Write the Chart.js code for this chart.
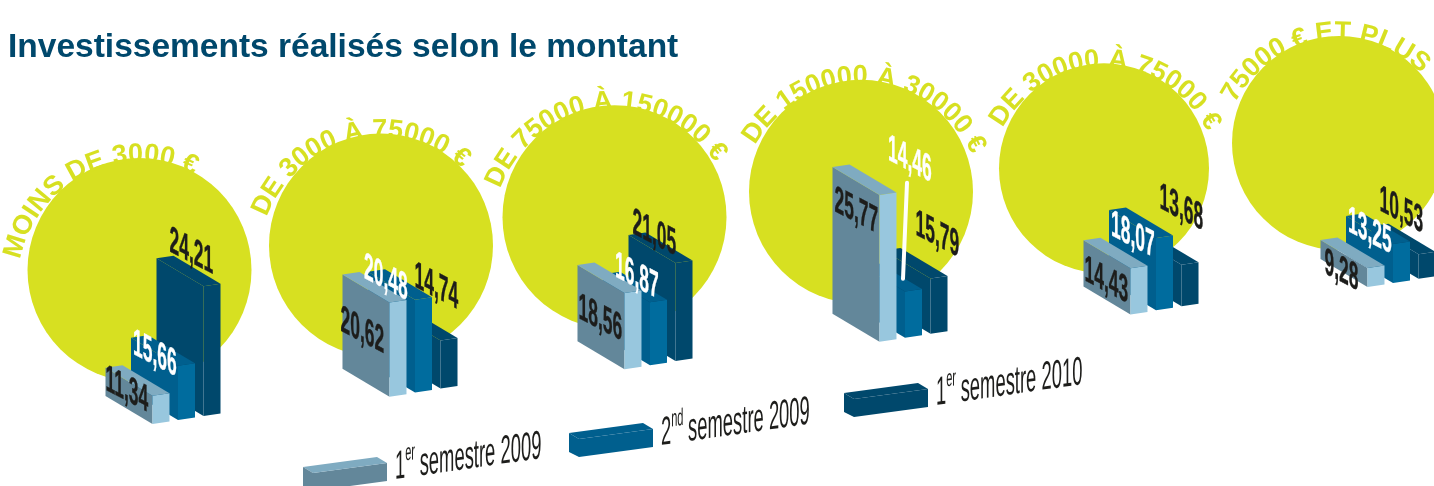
<!DOCTYPE html>
<html>
<head>
<meta charset="utf-8">
<title>Investissements réalisés selon le montant</title>
<script src="https://cdn.jsdelivr.net/npm/chart.js@4/dist/chart.umd.js"></script>
<style>
    html, body { margin: 0; padding: 0; background: #fff; overflow: hidden; }
    canvas { display: block; }
</style>
</head>
<body>
<canvas id="myChart" width="1434" height="486"></canvas>
<script>
// data
const chartTitle = 'Investissements réalisés selon le montant';
const categories = ['MOINS DE 3000 €', 'DE 3000 À 75000 €', 'DE 75000 À 150000 €', 'DE 150000 À 30000 €', 'DE 30000 À 75000 €', '75000 € ET PLUS'];
const sem1_2009 = [11.34, 20.62, 18.56, 25.77, 14.43, 9.28];
const sem2_2009 = [15.66, 20.48, 16.87, 14.46, 18.07, 13.25];
const sem1_2010 = [24.21, 14.74, 21.05, 15.79, 13.68, 10.53];
const seriesNames = ['1er semestre 2009', '2nd semestre 2009', '1er semestre 2010'];

// layout of the drawing, relative to each group
const groupNudge = [0, -6, -14, -2, 6, 0];
const circleDx = [-38.5, -40, -49.5, -46, -46, -54];
const circleDy = [-150, -147, -148, -146, -142, -140];
const circleR = [112, 112, 112, 112, 105, 107];
const arcAngle = [116, 104, 97, 87.5, 89, 99];
const labelDx = [
    [0, -2, 1, 2, 1, 4],
    [2, -4, 12, 30, 2, 2],
    [13, 21, 4, 32, 25, 8]
];
const labelDy = [
    [20, 54, 51, 42, 38, 31],
    [14, 4, 0, -106, 23, 13],
    [-9, -28, -4, -18, -31, -18]
];
const legendAnchors = [[313, 473], [579, 439], [854, 399]];

const YELLOW = '#d7e021';
const DEPTH = { x: -47, y: -28 };
const SIDE = { x: 17, y: -2.5 };

// bar height grows with the square of the value, like in the source picture
class SquareScale extends Chart.LinearScale {
    getPixelForValue(v) {
        return this.getPixelForDecimal(v * v / (this.max * this.max));
    }
    getValueForPixel(p) {
        return Math.sqrt(this.getDecimalForPixel(p)) * this.max;
    }
}
SquareScale.id = 'square';
SquareScale.defaults = Chart.LinearScale.defaults;
Chart.register(SquareScale);

function poly(ctx, color, pts) {
    ctx.fillStyle = color;
    ctx.beginPath();
    ctx.moveTo(pts[0][0], pts[0][1]);
    for (var i = 1; i < pts.length; i++) ctx.lineTo(pts[i][0], pts[i][1]);
    ctx.closePath();
    ctx.fill();
}

function boxGeometry(chart, bar, i) {
    var xs = chart.scales.x;
    var center = xs.getPixelForValue(i);
    var ground = bar.base - 0.1128 * (center - xs.left) - 0.16 * (bar.x - center);
    return { x: bar.x + groupNudge[i], ground: ground, top: ground - (bar.base - bar.y) };
}

function groupOrigin(chart, i) {
    var xs = chart.scales.x;
    var center = xs.getPixelForValue(i);
    return { x: center, y: chart.scales.y.bottom - 0.1128 * (center - xs.left) };
}

// the text arc is a little flatter than the disc, so its middle sinks into it
function drawArcText(ctx, text, cx, cy, r, deg) {
    ctx.save();
    ctx.font = 'bold 27px "Liberation Sans"';
    ctx.fillStyle = YELLOW;
    ctx.textAlign = 'center';
    ctx.textBaseline = 'alphabetic';
    var total = ctx.measureText(text).width;
    var angle = deg * Math.PI / 180 + total / 2 / r;
    for (var k = 0; k < text.length; k++) {
        var w = ctx.measureText(text[k]).width;
        var a = angle - w / 2 / r;
        ctx.save();
        ctx.translate(cx + r * Math.cos(a), cy - r * Math.sin(a));
        ctx.rotate(Math.PI / 2 - a);
        ctx.fillText(text[k], 0, 0);
        ctx.restore();
        angle -= w / r;
    }
    ctx.restore();
}

function drawLegendItem(ctx, ds, anchor) {
    var x = anchor[0], y = anchor[1];
    poly(ctx, ds.backgroundColor, [[x, y], [x + 74, y - 10], [x + 74, y + 8], [x, y + 18]]);
    poly(ctx, ds.topColor, [[x - 10, y - 6], [x + 64, y - 16], [x + 74, y - 10], [x, y]]);
    poly(ctx, ds.edgeColor, [[x - 10, y - 6], [x, y], [x, y + 18], [x - 10, y + 13]]);

    var parts = ds.label.match(/^(\d)(er|nd) (.*)$/);
    ctx.save();
    ctx.fillStyle = '#1d1d1b';
    ctx.textBaseline = 'alphabetic';
    ctx.transform(0.46, -0.066, 0, 1, x + 82, y + 6);
    ctx.font = '40px "Liberation Sans"';
    ctx.fillText(parts[1], 0, 0);
    var w = ctx.measureText(parts[1]).width;
    ctx.font = '24px "Liberation Sans"';
    ctx.fillText(parts[2], w, -17);
    w += ctx.measureText(parts[2]).width + 10;
    ctx.font = '40px "Liberation Sans"';
    ctx.fillText(parts[3], w, 0);
    ctx.restore();
}

const boxPlugin = {
    id: 'boxPlugin',
    beforeDatasetsDraw(chart) {
        var ctx = chart.ctx;
        ctx.save();
        ctx.font = 'bold 33.5px "Liberation Sans"';
        ctx.fillStyle = '#00486c';
        ctx.textBaseline = 'alphabetic';
        ctx.fillText(chartTitle, 8, 57);
        ctx.restore();
        categories.forEach(function (cat, i) {
            var o = groupOrigin(chart, i);
            var cx = o.x + circleDx[i], cy = o.y + circleDy[i];
            ctx.fillStyle = YELLOW;
            ctx.beginPath();
            ctx.arc(cx, cy, circleR[i], 0, Math.PI * 2);
            ctx.fill();
            drawArcText(ctx, cat, cx, cy + 14, circleR[i] + 10, arcAngle[i]);
        });
    },
    beforeDatasetDraw(chart, args) {
        var ctx = chart.ctx;
        var ds = chart.data.datasets[args.index];
        args.meta.data.forEach(function (bar, i) {
            var b = boxGeometry(chart, bar, i);
            poly(ctx, ds.backgroundColor, [[b.x + DEPTH.x, b.top + DEPTH.y], [b.x, b.top], [b.x, b.ground], [b.x + DEPTH.x, b.ground + DEPTH.y]]);
            poly(ctx, ds.sideColor, [[b.x, b.top], [b.x + SIDE.x, b.top + SIDE.y], [b.x + SIDE.x, b.ground + SIDE.y], [b.x, b.ground]]);
            poly(ctx, ds.topColor, [[b.x + DEPTH.x, b.top + DEPTH.y], [b.x + DEPTH.x + SIDE.x, b.top + DEPTH.y + SIDE.y], [b.x + SIDE.x, b.top + SIDE.y], [b.x, b.top]]);
        });
        return false;
    },
    afterDatasetsDraw(chart) {
        var ctx = chart.ctx;

        // white leader between the 14,46 label and its bar
        var rod = boxGeometry(chart, chart.getDatasetMeta(1).data[3], 3);
        ctx.save();
        ctx.strokeStyle = '#fff';
        ctx.lineWidth = 4;
        ctx.lineCap = 'round';
        ctx.beginPath();
        ctx.moveTo(rod.x + 2, rod.ground - 155);
        ctx.lineTo(rod.x - 2, rod.ground - 59);
        ctx.stroke();
        ctx.restore();

        chart.data.datasets.forEach(function (ds, d) {
            chart.getDatasetMeta(d).data.forEach(function (bar, i) {
                var b = boxGeometry(chart, bar, i);
                var txt = ds.data[i].toFixed(2).replace('.', ',');
                ctx.save();
                ctx.transform(0.46, 0.24, 0, 1, b.x + DEPTH.x + labelDx[d][i], b.top + DEPTH.y + labelDy[d][i] + 2);
                ctx.font = 'bold 38px "Liberation Sans"';
                ctx.textBaseline = 'alphabetic';
                ctx.fillStyle = ds.labelColor;
                ctx.strokeStyle = ds.labelColor;
                ctx.lineWidth = 0.4;
                ctx.fillText(txt, 0, 0);
                ctx.strokeText(txt, 0, 0);
                ctx.restore();
            });
            drawLegendItem(ctx, ds, legendAnchors[d]);
        });
    }
};

new Chart('myChart', {
    type: 'bar',
    data: {
        labels: categories,
        datasets: [{
            label: seriesNames[0],
            data: sem1_2009,
            backgroundColor: '#63879a',
            sideColor: '#98c7de',
            topColor: '#7fabc1',
            edgeColor: '#63879a',
            labelColor: '#1d1d1b'
        }, {
            label: seriesNames[1],
            data: sem2_2009,
            backgroundColor: '#005f8e',
            sideColor: '#006c9e',
            topColor: '#005f8e',
            edgeColor: '#005f8e',
            labelColor: '#ffffff'
        }, {
            label: seriesNames[2],
            data: sem1_2010,
            backgroundColor: '#00486c',
            sideColor: '#00486c',
            topColor: '#00486c',
            edgeColor: '#00486c',
            labelColor: '#1d1d1b'
        }]
    },
    options: {
        responsive: false,
        animation: false,
        events: [],
        layout: { padding: { left: 178, right: 41, top: 66, bottom: 66 } },
        categoryPercentage: 0.315,
        barPercentage: 1,
        plugins: {
            legend: { display: false },
            title: { display: false },
            tooltip: { enabled: false }
        },
        scales: {
            x: { display: false, offset: false },
            y: { type: 'square', display: false, min: 0, max: 40 }
        }
    },
    plugins: [boxPlugin]
});
</script>
</body>
</html>
